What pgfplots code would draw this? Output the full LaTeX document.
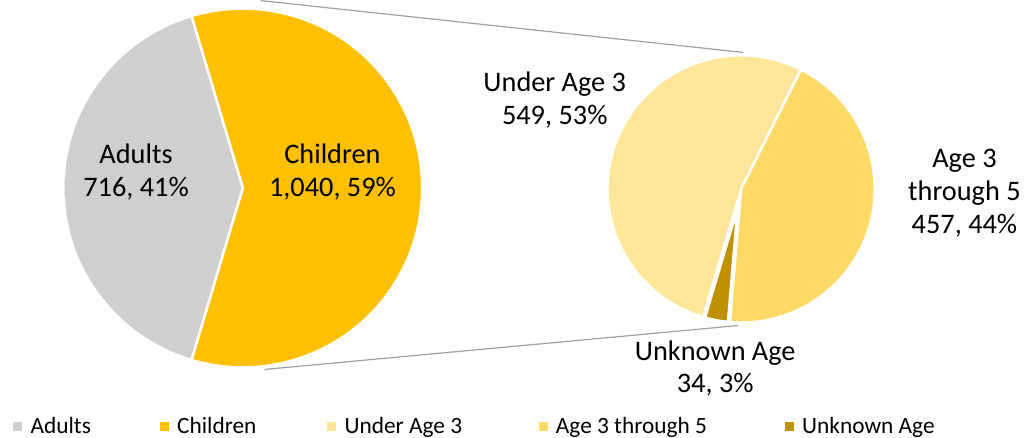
\documentclass[border=0pt]{standalone}
\usepackage{pgfplots}
\pgfplotsset{compat=1.18}
\usepackage{fontspec}
\setmainfont{Carlito}

\definecolor{cAdults}{HTML}{D0CECE}
\definecolor{cChildren}{HTML}{FFC000}
\definecolor{cUnder}{HTML}{FFE699}
\definecolor{cMid}{HTML}{FFD966}
\definecolor{cUnknown}{HTML}{BF9000}
\definecolor{cLine}{HTML}{A0A0A0}

% values
\def\nAdults{716}
\def\nChildren{1040}
\def\nUnder{549}
\def\nMid{457}
\def\nUnknown{34}

% one wedge: cx, cy, r, start, end, colour
\newcommand{\slice}[6]{%
  \fill[#6, draw=white, line width=2.5bp, line join=round]
    (axis cs:#1,#2) -- ++(#4:#3bp) arc[start angle=#4, end angle=#5, radius=#3bp] -- cycle;}
% one legend entry: x of square, colour, text
\newcommand{\key}[3]{%
  \fill[#2] (axis cs:#1,7) rectangle (axis cs:#1+9,16);
  \node[anchor=base west, inner sep=0pt, font=\fontsize{23.5}{26}\selectfont]
    at (axis cs:#1+17,4.5) {#3};}

\begin{document}
\pgfmathsetmacro\aC{\nChildren/(\nAdults+\nChildren)*180}
\pgfmathsetmacro\aA{360-\aC}
\pgfmathsetmacro\sU{63.4}
\pgfmathsetmacro\eU{\sU+\nUnder/\nChildren*360}
\pgfmathsetmacro\eK{\eU+\nUnknown/\nChildren*360}
\pgfmathsetmacro\eM{\sU+360}
\begin{tikzpicture}
\begin{axis}[
  width=1024bp, height=440bp, scale only axis,
  xmin=0, xmax=1024, ymin=0, ymax=440,
  hide axis, clip=false,
]
% connector lines
\draw[cLine, line width=1.2bp] (axis cs:258,439) -- (axis cs:742,387);
\draw[cLine, line width=1.2bp] (axis cs:262,69) -- (axis cs:737,113);

% main pie
\slice{240}{251}{180}{-\aC}{\aC}{cChildren}
\slice{240}{251}{180}{\aC}{\aA}{cAdults}

% second pie
\slice{740}{250}{134}{\sU}{\eU}{cUnder}
\slice{740}{250}{134}{\eK}{\eM}{cMid}
\slice{736.3}{230.3}{114}{\eU}{\eK}{cUnknown}

% data labels
\begin{scope}[every node/.style={align=center, font=\fontsize{28.5}{33}\selectfont}]
\node at (axis cs:133,267) {Adults\\716, 41\%};
\node at (axis cs:330,267) {Children\\1,040, 59\%};
\node at (axis cs:553,339) {Under Age 3\\549, 53\%};
\node at (axis cs:964,246) {Age 3\\through 5\\457, 44\%};
\node at (axis cs:714,70) {Unknown Age\\34, 3\%};
\end{scope}

% legend
\key{10}{cAdults}{Adults}
\key{157}{cChildren}{Children}
\key{325}{cUnder}{Under Age 3}
\key{537}{cMid}{Age 3 through 5}
\key{784}{cUnknown}{Unknown Age}
\end{axis}
\end{tikzpicture}
\end{document}
